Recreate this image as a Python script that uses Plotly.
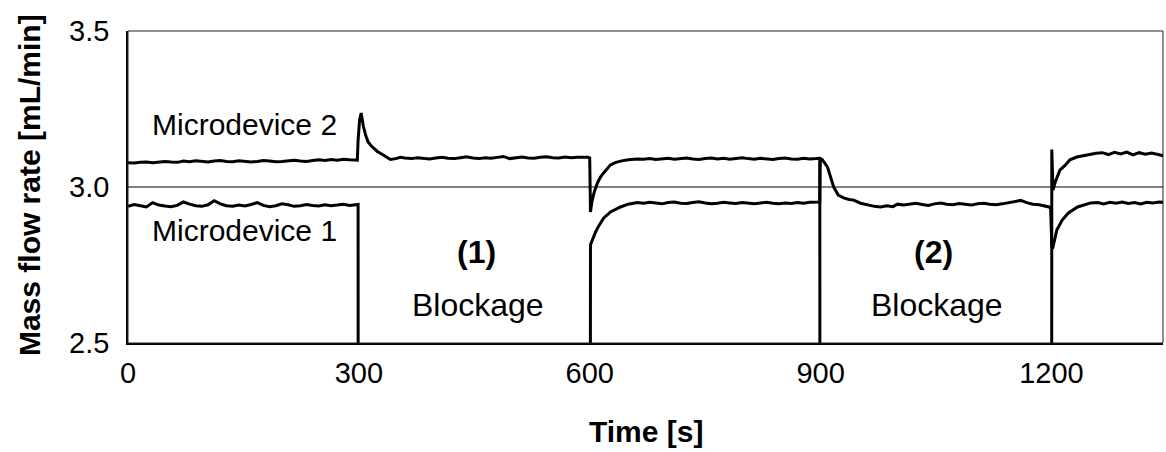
import plotly.graph_objects as go

# ---------------- data ----------------
# Microdevice 2 (upper trace); 0 = blocked (off scale)
m2_t_a = list(range(0, 297, 8))
m2_v_a = [3.078, 3.077, 3.079, 3.080, 3.078, 3.079, 3.082, 3.080, 3.079, 3.083,
          3.081, 3.084, 3.082, 3.080, 3.083, 3.085, 3.082, 3.081, 3.084, 3.083,
          3.080, 3.082, 3.085, 3.083, 3.081, 3.082, 3.084, 3.086, 3.083, 3.082,
          3.085, 3.087, 3.085, 3.088, 3.086, 3.089, 3.087, 3.088]
m2_t_e1 = [298, 299, 301, 303, 306, 309, 312, 316, 320, 324, 328, 334, 341, 348, 354]
m2_v_e1 = [3.086, 3.150, 3.215, 3.237, 3.193, 3.165, 3.144, 3.132, 3.122, 3.114,
           3.108, 3.098, 3.088, 3.091, 3.095]
m2_t_b = list(range(360, 593, 8))
m2_v_b = [3.093, 3.091, 3.094, 3.092, 3.090, 3.093, 3.095, 3.092, 3.091, 3.094,
          3.097, 3.093, 3.091, 3.094, 3.092, 3.095, 3.098, 3.091, 3.094, 3.096,
          3.093, 3.092, 3.095, 3.097, 3.094, 3.093, 3.096, 3.094, 3.095, 3.096]
m2_t_e2 = [598, 600, 601, 603, 606, 610, 614, 618, 622, 627, 633, 640, 650, 662]
m2_v_e2 = [3.095, 3.093, 2.920, 2.955, 2.985, 3.013, 3.032, 3.045, 3.058, 3.071,
           3.078, 3.083, 3.087, 3.090]
m2_t_c = list(range(670, 895, 8))
m2_v_c = [3.089, 3.091, 3.088, 3.090, 3.092, 3.089, 3.091, 3.093, 3.090, 3.088,
          3.091, 3.093, 3.090, 3.092, 3.089, 3.091, 3.094, 3.091, 3.089, 3.092,
          3.090, 3.088, 3.091, 3.093, 3.090, 3.089, 3.092, 3.090, 3.091]
m2_t_e3 = [899, 899.5, 1200, 1200.5, 1202, 1205, 1211, 1218, 1224, 1233, 1246, 1258]
m2_v_e3 = [3.092, 0.0, 0.0, 3.120, 2.990, 3.016, 3.054, 3.070, 3.087, 3.096,
           3.103, 3.108]
m2_t_d = list(range(1266, 1347, 8))
m2_v_d = [3.110, 3.104, 3.111, 3.106, 3.112, 3.103, 3.110, 3.105, 3.109, 3.104, 3.100]

# Microdevice 1 (lower trace); 0 = blocked (off scale)
m1_t_a = list(range(0, 297, 8))
m1_v_a = [2.938, 2.944, 2.940, 2.936, 2.950, 2.942, 2.939, 2.937, 2.941, 2.952,
          2.945, 2.940, 2.938, 2.943, 2.956, 2.946, 2.940, 2.938, 2.942, 2.939,
          2.944, 2.950, 2.941, 2.937, 2.940, 2.946, 2.943, 2.938, 2.940, 2.944,
          2.941, 2.939, 2.943, 2.940, 2.942, 2.945, 2.941, 2.943]
m1_t_e1 = [299, 299.5, 600, 601, 604, 607, 611, 618, 627, 640, 650, 662]
m1_v_e1 = [2.944, 0.0, 0.0, 2.815, 2.835, 2.852, 2.872, 2.900, 2.920, 2.936,
           2.945, 2.950]
m1_t_b = list(range(670, 895, 8))
m1_v_b = [2.948, 2.951, 2.949, 2.946, 2.950, 2.952, 2.948, 2.947, 2.950, 2.953,
          2.949, 2.946, 2.948, 2.951, 2.949, 2.947, 2.950, 2.948, 2.946, 2.949,
          2.951, 2.948, 2.946, 2.949, 2.947, 2.950, 2.948, 2.951, 2.952]
m1_t_e2 = [899, 899.5, 902, 906, 909, 913, 917, 923, 930, 937, 943, 952, 961, 970,
           978, 986, 994, 1000]
m1_v_e2 = [2.952, 3.090, 3.088, 3.075, 3.064, 3.032, 3.000, 2.974, 2.965, 2.960,
           2.958, 2.948, 2.942, 2.938, 2.936, 2.940, 2.937, 2.945]
m1_t_c = list(range(1008, 1193, 8))
m1_v_c = [2.942, 2.945, 2.948, 2.944, 2.941, 2.946, 2.949, 2.945, 2.943, 2.947,
          2.944, 2.942, 2.946, 2.948, 2.945, 2.943, 2.946, 2.949, 2.952, 2.957,
          2.950, 2.945, 2.943, 2.940]
m1_t_e3 = [1197, 1199, 1200.5, 1202, 1207, 1214, 1222, 1234, 1251]
m1_v_e3 = [2.936, 2.930, 2.810, 2.808, 2.862, 2.894, 2.917, 2.936, 2.949]
m1_t_d = list(range(1260, 1349, 8))
m1_v_d = [2.950, 2.946, 2.951, 2.948, 2.952, 2.947, 2.950, 2.946, 2.951, 2.949,
          2.952, 2.950]

x_ticks = [0, 300, 600, 900, 1200]
y_ticks = [2.5, 3.0, 3.5]
y_tick_text = ["2.5", "3.0", "3.5"]

m2_t = m2_t_a + m2_t_e1 + m2_t_b + m2_t_e2 + m2_t_c + m2_t_e3 + m2_t_d
m2_v = m2_v_a + m2_v_e1 + m2_v_b + m2_v_e2 + m2_v_c + m2_v_e3 + m2_v_d
m1_t = m1_t_a + m1_t_e1 + m1_t_b + m1_t_e2 + m1_t_c + m1_t_e3 + m1_t_d
m1_v = m1_v_a + m1_v_e1 + m1_v_b + m1_v_e2 + m1_v_c + m1_v_e3 + m1_v_d

FONT = "Liberation Sans, Arial, sans-serif"

fig = go.Figure()
fig.add_trace(go.Scatter(x=m2_t, y=m2_v, mode="lines", name="Microdevice 2",
                         line=dict(color="black", width=3)))
fig.add_trace(go.Scatter(x=m1_t, y=m1_v, mode="lines", name="Microdevice 1",
                         line=dict(color="black", width=3)))

fig.update_layout(
    width=1166, height=452,
    margin=dict(l=128, r=3, t=31, b=109),
    paper_bgcolor="white", plot_bgcolor="white",
    showlegend=False,
    font=dict(family=FONT, color="black"),
    xaxis=dict(range=[0, 1345], tickvals=x_ticks, showgrid=False, zeroline=False,
               showline=True, linecolor="black", linewidth=2, ticks="",
               tickfont=dict(size=29), ticklabelstandoff=3),
    yaxis=dict(range=[2.5, 3.5], tickvals=y_ticks, ticktext=y_tick_text,
               showgrid=False, zeroline=False, showline=True, linecolor="black",
               linewidth=1.5, ticks="", tickfont=dict(size=29), ticklabelstandoff=11),
    shapes=[
        dict(type="rect", xref="paper", yref="paper", x0=0, x1=1, y0=0, y1=1,
             line=dict(color="#222", width=1), layer="above"),
        dict(type="line", xref="paper", yref="y", x0=0, x1=1, y0=3.0, y1=3.0,
             line=dict(color="black", width=1), layer="above"),
    ],
    annotations=[
        dict(text="<b>Mass flow rate [mL/min]</b>", xref="paper", yref="paper",
             x=-0.0957, y=0.506, textangle=-90, showarrow=False,
             font=dict(size=30), xanchor="center", yanchor="middle"),
        dict(text="<b>Time [s]</b>", xref="paper", yref="paper",
             x=0.5, y=-0.285, showarrow=False, font=dict(size=30),
             xanchor="center", yanchor="middle"),
        dict(text="Microdevice 2", x=28.6, y=3.199, showarrow=False,
             xanchor="left", yanchor="middle", font=dict(size=30)),
        dict(text="Microdevice 1", x=28.6, y=2.862, showarrow=False,
             xanchor="left", yanchor="middle", font=dict(size=30)),
        dict(text="<b>(1)</b>", x=452.5, y=2.792, showarrow=False,
             xanchor="center", yanchor="middle", font=dict(size=32)),
        dict(text="Blockage", x=455, y=2.622, showarrow=False,
             xanchor="center", yanchor="middle", font=dict(size=32)),
        dict(text="<b>(2)</b>", x=1047, y=2.792, showarrow=False,
             xanchor="center", yanchor="middle", font=dict(size=32)),
        dict(text="Blockage", x=1051, y=2.622, showarrow=False,
             xanchor="center", yanchor="middle", font=dict(size=32)),
    ],
)

fig.write_html("out.html")
